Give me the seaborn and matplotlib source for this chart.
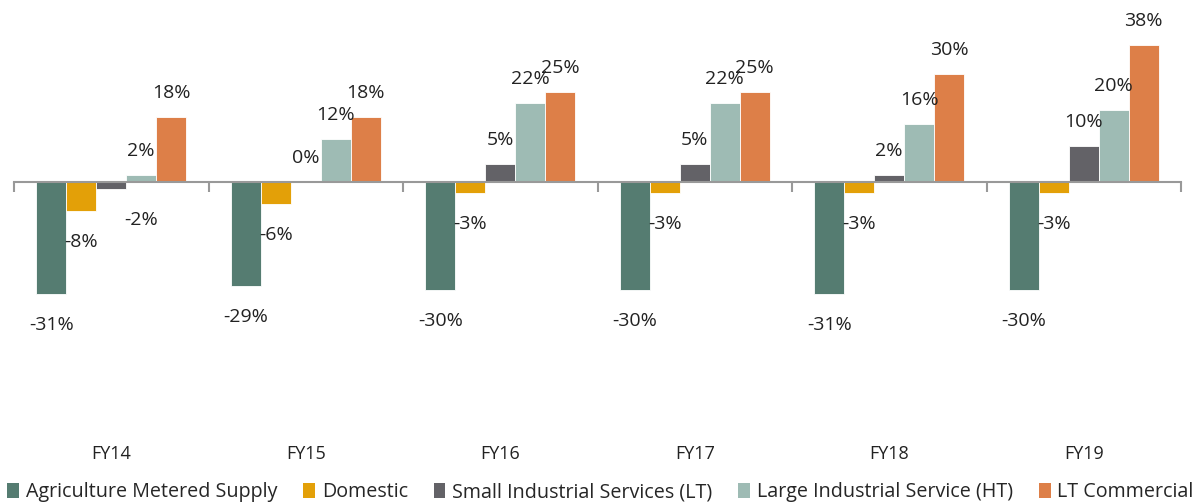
import matplotlib
matplotlib.use("Agg")
import matplotlib.pyplot as plt
import seaborn as sns
import pandas as pd
import numpy as np
from matplotlib.patches import Patch

years = ["FY14", "FY15", "FY16", "FY17", "FY18", "FY19"]
series = ["Agriculture Metered Supply", "Domestic", "Small Industrial Services (LT)",
          "Large Industrial Service (HT)", "LT Commercial"]
agriculture = [-31, -29, -30, -30, -31, -30]
domestic = [-8, -6, -3, -3, -3, -3]
small_ind = [-2, 0, 5, 5, 2, 10]
large_ind = [2, 12, 22, 22, 16, 20]
lt_commercial = [18, 18, 25, 25, 30, 38]

colors = ["#557C71", "#E3A008", "#636267", "#9EBBB4", "#DD7F48"]

values = [agriculture, domestic, small_ind, large_ind, lt_commercial]
rows = []
for s, vals in zip(series, values):
    for y, v in zip(years, vals):
        rows.append({"Year": y, "Series": s, "Value": v})
df = pd.DataFrame(rows)

sns.set_theme(style="white")
plt.rcParams['font.family'] = ['Open Sans', 'DejaVu Sans']

fig = plt.figure(figsize=(12.01, 5.04), dpi=100)
ax = fig.add_axes([14/1201, 1-435/504, (1181-14)/1201, (435-30)/504])

sns.barplot(data=df, x="Year", y="Value", hue="Series", order=years, hue_order=series,
            palette=colors, width=0.77, gap=0, ax=ax, legend=False,
            edgecolor="white", linewidth=0.6, saturation=1)

ax.set_ylim(-70.3, 42.2)
ax.set_xlim(-0.5, len(years) - 0.5)
ax.set_yticks([])
ax.set_ylabel("")
ax.set_xlabel("")
for sp in ["top", "right", "left"]:
    ax.spines[sp].set_visible(False)
ax.spines["bottom"].set_position(("data", 0))
ax.spines["bottom"].set_color("#999999")
ax.spines["bottom"].set_linewidth(1.5)
ax.set_xticks(np.arange(-0.5, len(years) + 0.5, 1.0))
ax.set_xticklabels([])
ax.tick_params(axis="x", direction="out", length=7, width=1.5, color="#999999", bottom=True)

sec = ax.secondary_xaxis("bottom")
sec.set_xticks(range(len(years)))
sec.set_xticklabels(years, fontsize=13, color="#222222")
sec.tick_params(length=0, pad=7)
sec.spines["bottom"].set_visible(False)

# data labels
nudges = {("Small Industrial Services (LT)", "FY14"): (30, 0)}
containers = ax.containers
for s, cont, vals in zip(series, containers, values):
    for bar, y, v in zip(cont, years, vals):
        cx = bar.get_x() + bar.get_width() / 2
        dx, dy = nudges.get((s, y), (0, 0))
        off = 24 if v >= 0 else -31
        ax.annotate(f"{v}%", (cx, v), xytext=(dx, off + dy), textcoords="offset pixels",
                    ha="center", va="center", fontsize=14, color="#222222")

handles = [Patch(facecolor=c, edgecolor="none") for c in colors]
fig.legend(handles, series, loc="lower center", bbox_to_anchor=(0.5, -0.012), ncol=5,
           frameon=False, fontsize=14.2, handlelength=0.6, handleheight=0.8,
           handletextpad=0.35, columnspacing=1.3, borderaxespad=0)

fig.savefig("out.png", dpi=100)
